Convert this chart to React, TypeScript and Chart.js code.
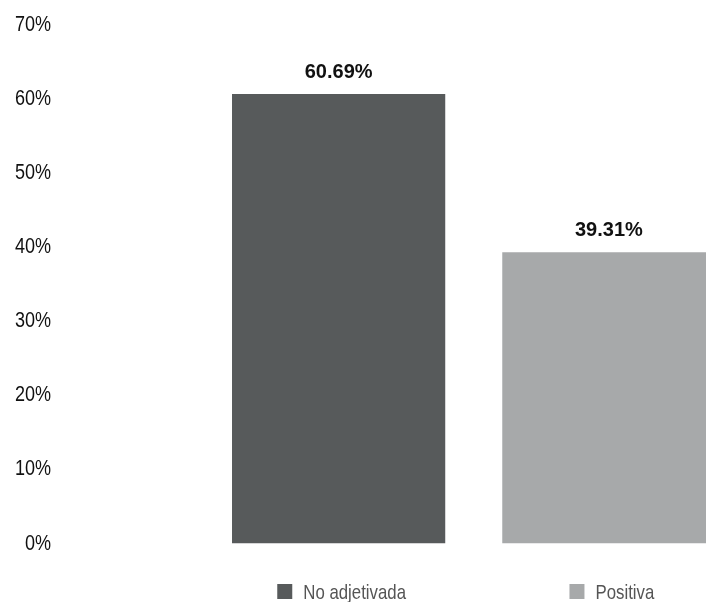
import React, { useEffect, useRef } from "react";
import { Chart, registerables } from "chart.js";

Chart.register(...registerables);

const categories = ["No adjetivada", "Positiva"];
const values = [60.69, 39.31];
const barColors = ["#575a5b", "#a7a9aa"];
const yTicks = [0, 10, 20, 30, 40, 50, 60, 70];

const REGULAR = "'Liberation Sans', Arial, sans-serif";
const NARROW_SCALE = 0.82;
const TICK_PAD = 152.5;

const valueLabels = {
  id: "valueLabels",
  afterDatasetsDraw(chart: any) {
    const ctx = chart.ctx;
    const meta = chart.getDatasetMeta(0);
    ctx.save();
    ctx.font = `bold 20px ${REGULAR}`;
    ctx.fillStyle = "#111111";
    ctx.textAlign = "center";
    ctx.textBaseline = "alphabetic";
    meta.data.forEach((el: any, i: number) => {
      ctx.fillText(values[i].toFixed(2) + "%", el.x, el.y - 16);
    });
    ctx.restore();
  },
};

const bottomLegend = {
  id: "bottomLegend",
  afterDraw(chart: any) {
    const ctx = chart.ctx;
    const xs = chart.scales.x;
    ctx.save();
    ctx.font = `21px ${REGULAR}`;
    ctx.textBaseline = "alphabetic";
    ctx.textAlign = "left";
    const box = 15;
    const gap = 11;
    const baseline = 599;
    const sx = 0.8;
    categories.forEach((c, i) => {
      const cx = xs.getPixelForValue(i) + 3;
      const tw = ctx.measureText(c).width * sx;
      const total = box + gap + tw;
      const x0 = cx - total / 2;
      ctx.fillStyle = barColors[i];
      ctx.fillRect(x0, baseline - box, box, box);
      ctx.fillStyle = "#555555";
      const tx = x0 + box + gap;
      ctx.save();
      ctx.translate(tx, baseline);
      ctx.scale(sx, 1);
      ctx.fillText(c, 0, 0);
      ctx.restore();
    });
    ctx.restore();
  },
};

export default function App() {
  const ref = useRef<HTMLCanvasElement | null>(null);

  useEffect(() => {
    if (!ref.current) return;
    const chart = new Chart(ref.current, {
      type: "bar",
      data: {
        labels: categories,
        datasets: [
          {
            data: values,
            backgroundColor: barColors,
            borderWidth: 0,
            categoryPercentage: 1,
            barPercentage: 0.789,
          },
        ],
      },
      options: {
        responsive: false,
        maintainAspectRatio: false,
        animation: false,
        layout: { padding: { top: 25, bottom: 58.5, left: 0, right: 0 } },
        plugins: {
          legend: { display: false },
          tooltip: { enabled: false },
        },
        scales: {
          x: { display: false },
          y: {
            min: 0,
            max: 70,
            afterBuildTicks(scale: any) {
              scale.ticks = yTicks.map((v) => ({ value: v }));
            },
            afterFit(scale: any) {
              scale.width = 203.5;
              scale.paddingTop = 10;
              scale.paddingBottom = 10;
              if (!scale._narrowPatched) {
                scale._narrowPatched = true;
                const orig = scale.drawLabels;
                scale.drawLabels = function (area: any) {
                  const ctx = this.ctx;
                  const ax = this.right - TICK_PAD;
                  ctx.save();
                  ctx.translate(ax, 0);
                  ctx.scale(NARROW_SCALE, 1);
                  ctx.translate(-ax, 0);
                  orig.call(this, area);
                  ctx.restore();
                };
              }
            },
            grid: { display: false, drawTicks: false },
            border: { display: false },
            ticks: {
              padding: TICK_PAD,
              color: "#111111",
              font: { family: REGULAR, size: 22 },
              callback: (v: any) => v + "%",
            },
          },
        },
      },
      plugins: [valueLabels, bottomLegend],
    });
    return () => chart.destroy();
  }, []);

  return (
    <div
      style={{
        position: "fixed",
        left: 0,
        top: 0,
        width: 706,
        height: 602,
        overflow: "hidden",
        background: "#ffffff",
      }}
    >
      <canvas
        ref={ref}
        width={744}
        height={602}
        style={{ position: "absolute", left: 0, top: 0, width: 744, height: 602 }}
      />
    </div>
  );
}
